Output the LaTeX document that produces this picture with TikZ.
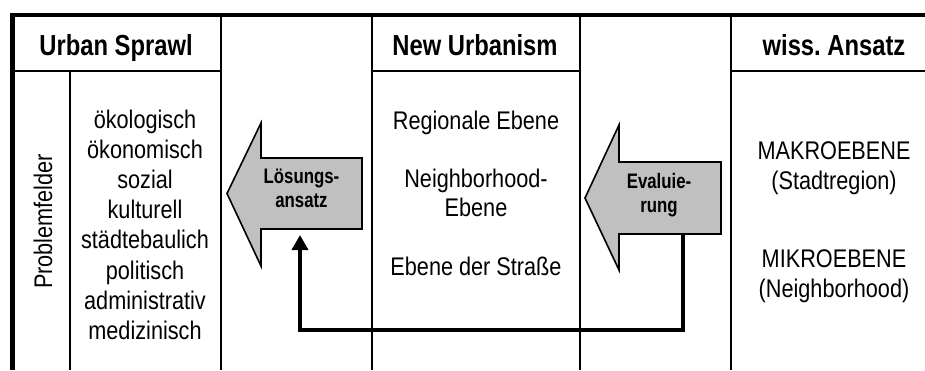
\documentclass[tikz,border=0pt]{standalone}
\usepackage{fontspec}
\usetikzlibrary{arrows.meta,calc}
\newfontfamily\bodyfont[FakeStretch=0.85]{Liberation Sans}
\newfontfamily\headfont[FakeStretch=0.82]{Liberation Sans}
\newfontfamily\labelfont[FakeStretch=0.8]{Liberation Sans}
\newcommand\mystack[1]{\begin{tabular}[t]{@{}c@{}}#1\end{tabular}}
\definecolor{arrowgray}{HTML}{C0C0C0}
\frenchspacing
\tikzset{
  hdr/.style={font=\headfont\bfseries\fontsize{29pt}{34pt}\selectfont, anchor=base, inner sep=0pt},
  body/.style={font=\bodyfont\fontsize{25.5pt}{30.2pt}\selectfont, anchor=base, inner sep=0pt},
  arrtxt/.style={font=\labelfont\bfseries\fontsize{21pt}{24pt}\selectfont, anchor=base, inner sep=0pt},
  thinrule/.style={line width=2pt},
  framerule/.style={line width=4.7pt, line join=miter},
  bigarrow/.style={fill=arrowgray, draw=black, line width=1.6pt, line join=miter},
  feedback/.style={line width=3.5pt, line join=miter, -{Triangle[width=16pt,length=15pt]}}
}
\begin{document}
\begin{tikzpicture}[x=1pt,y=-1pt]
\useasboundingbox (0,0) rectangle (925,370);
% table frame
\draw[framerule] (12.5,370) -- (12.5,15) -- (925,15);
\draw[thinrule] (12.5,71) -- (221,71);
\draw[thinrule] (372,71) -- (580,71);
\draw[thinrule] (731,71) -- (925,71);
\draw[thinrule] (70,71) -- (70,370);
\draw[thinrule] (221,15) -- (221,370);
\draw[thinrule] (372,15) -- (372,370);
\draw[thinrule] (580,15) -- (580,370);
\draw[thinrule] (731,15) -- (731,370);
% headers
\node[hdr] (hsprawl) at (116,55) {Urban Sprawl};
\node[hdr] (hnew) at (475,55) {New Urbanism};
\node[hdr] (hwiss) at (834,55) {wiss. Ansatz};
% first column
\node[body, rotate=90] (problem) at (52,221.5) {Problemfelder};
\node[body] (probs) at (145,128) {\mystack{ökologisch\\ökonomisch\\sozial\\kulturell\\städtebaulich\\politisch\\administrativ\\medizinisch}};
% middle column
\node[body, font=\bodyfont\fontsize{25.5pt}{29.2pt}\selectfont] (levels) at (476,129) {\mystack{Regionale Ebene\\ \\Neighborhood-\\Ebene\\ \\Ebene der Straße}};
% right column
\node[body] (makro) at (834,159) {\mystack{MAKROEBENE\\(Stadtregion)}};
\node[body] (mikro) at (834,267) {\mystack{MIKROEBENE\\(Neighborhood)}};
% big arrows
\draw[bigarrow] (362,158) -- (261,158) -- (261,123) -- (227,193.5) -- (261,266) -- (261,229) -- (362,229) -- cycle;
\node[arrtxt] (loes) at (301.5,183) {\mystack{Lösungs-\\ansatz}};
\draw[bigarrow] (721,162) -- (619,162) -- (619,125) -- (585,198) -- (619,270) -- (619,234) -- (721,234) -- cycle;
\node[arrtxt] (eval) at (659,188) {\mystack{Evaluie-\\rung}};
% feedback connector
\coordinate (evalfoot) at (683,234);
\coordinate (loesfoot) at (300,235);
\coordinate (low) at (300,330);
\draw[feedback] (evalfoot) |- (low) -- (loesfoot);
\end{tikzpicture}
\end{document}
